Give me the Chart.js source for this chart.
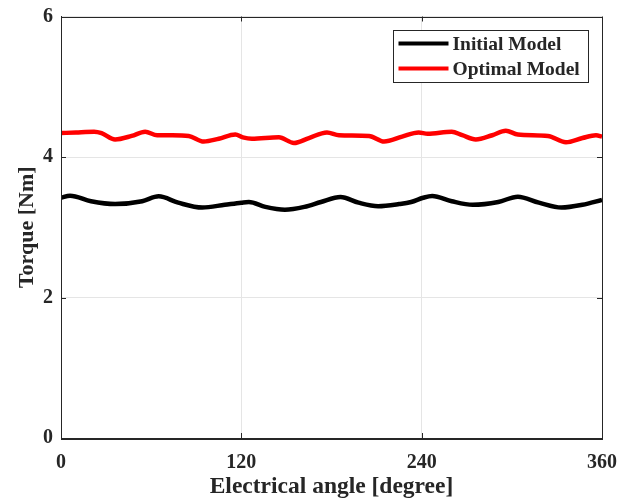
<!DOCTYPE html>
<html>
<head>
<meta charset="utf-8">
<script src="https://cdn.jsdelivr.net/npm/chart.js@4.4.0/dist/chart.umd.min.js"></script>
<style>
  html, body { margin: 0; padding: 0; background: #fff; }
  #wrap { width: 632px; height: 499px; }
</style>
</head>
<body>
<div id="wrap"><canvas id="myChart" width="632" height="499"></canvas></div>
<script>
// values
const initialAngle = [0, 6, 20, 36, 54, 65, 78, 94, 109, 120, 125, 136, 149, 162, 173, 186, 198, 211, 225, 233, 241, 247, 260, 274, 291, 304, 318, 333, 347, 360];
const initialTorque = [3.42, 3.45, 3.37, 3.33, 3.37, 3.44, 3.35, 3.28, 3.32, 3.35, 3.36, 3.29, 3.25, 3.29, 3.36, 3.43, 3.35, 3.30, 3.33, 3.36, 3.42, 3.445, 3.37, 3.32, 3.36, 3.435, 3.35, 3.28, 3.32, 3.39];

const optimalAngle = [0, 10, 22, 27, 36, 47, 56, 64, 74, 85, 95, 105, 116, 121, 127, 145, 155, 165, 177, 185, 205, 215, 227, 238, 244, 260, 267, 276, 287, 296, 304, 324, 336, 347, 356, 360];
const optimalTorque = [4.34, 4.35, 4.36, 4.34, 4.25, 4.30, 4.36, 4.31, 4.31, 4.30, 4.22, 4.26, 4.32, 4.28, 4.26, 4.28, 4.20, 4.27, 4.35, 4.31, 4.30, 4.22, 4.29, 4.35, 4.33, 4.36, 4.31, 4.25, 4.31, 4.375, 4.32, 4.30, 4.21, 4.27, 4.31, 4.29];

const xTicks = [0, 120, 240, 360];
const yTicks = [0, 2, 4, 6];

const serif = "'Liberation Serif', 'Times New Roman', serif";
const axisCol = '#262626';

function pts(xs, ys) {
  return xs.map((x, i) => ({ x: x, y: ys[i] }));
}

// box around the plot + inward tick marks + framed legend (MATLAB look)
const matlabBox = {
  id: 'matlabBox',
  afterDraw(chart) {
    const ctx = chart.ctx;
    const a = chart.chartArea;
    const xs = chart.scales.x, ys = chart.scales.y;
    ctx.save();
    ctx.strokeStyle = axisCol;
    ctx.lineWidth = 1;
    ctx.strokeRect(Math.round(a.left) + 0.5, Math.round(a.top) + 0.5,
                   Math.round(a.right - a.left), Math.round(a.bottom - a.top));
    ctx.beginPath();
    xTicks.forEach(v => {
      const px = Math.round(xs.getPixelForValue(v)) + 0.5;
      ctx.moveTo(px, a.bottom); ctx.lineTo(px, a.bottom - 5);
      ctx.moveTo(px, a.top); ctx.lineTo(px, a.top + 5);
    });
    yTicks.forEach(v => {
      const py = Math.round(ys.getPixelForValue(v)) + 0.5;
      ctx.moveTo(a.left, py); ctx.lineTo(a.left + 5, py);
      ctx.moveTo(a.right, py); ctx.lineTo(a.right - 5, py);
    });
    ctx.stroke();

    // legend
    const bx = 393.5, by = 30.5, bw = 195, bh = 52;
    ctx.fillStyle = '#fff';
    ctx.fillRect(bx, by, bw, bh);
    ctx.strokeStyle = '#262626';
    ctx.strokeRect(bx, by, bw, bh);
    ctx.font = 'bold 19.5px ' + serif;
    ctx.textBaseline = 'middle';
    chart.data.datasets.forEach((ds, i) => {
      const cy = by + 13 + i * 25;
      ctx.strokeStyle = ds.borderColor;
      ctx.lineWidth = 4;
      ctx.beginPath();
      ctx.moveTo(bx + 5, cy); ctx.lineTo(bx + 55, cy);
      ctx.stroke();
      ctx.fillStyle = axisCol;
      ctx.fillText(ds.label, bx + 59, cy + 1);
    });
    ctx.restore();
  }
};

const ctx = document.getElementById('myChart').getContext('2d');
const myChart = new Chart(ctx, {
  type: 'line',
  data: {
    datasets: [
      {
        label: 'Initial Model',
        data: pts(initialAngle, initialTorque),
        borderColor: '#000000',
        borderWidth: 4.5,
        pointRadius: 0,
        cubicInterpolationMode: 'monotone',
        fill: false
      },
      {
        label: 'Optimal Model',
        data: pts(optimalAngle, optimalTorque),
        borderColor: '#ff0000',
        borderWidth: 4.5,
        pointRadius: 0,
        cubicInterpolationMode: 'monotone',
        fill: false
      }
    ]
  },
  options: {
    responsive: false,
    animation: false,
    layout: { padding: { left: 0, right: 30, top: 16.5, bottom: 0 } },
    plugins: {
      legend: { display: false },
      tooltip: { enabled: false }
    },
    scales: {
      x: {
        type: 'linear',
        min: 0,
        max: 360,
        afterBuildTicks: s => { s.ticks = xTicks.map(v => ({ value: v })); },
        afterFit: s => { s.height = 61; s.paddingLeft = 0; s.paddingRight = 0; },
        grid: { color: '#e5e5e5', drawTicks: false },
        border: { color: axisCol },
        ticks: {
          color: axisCol,
          padding: 13,
          maxRotation: 0,
          font: { family: serif, size: 20, weight: 'bold' }
        },
        title: {
          display: true,
          text: 'Electrical angle [degree]',
          color: axisCol,
          padding: { top: 2, bottom: 0 },
          font: { family: serif, size: 23.5, weight: 'bold', lineHeight: 1.0 }
        }
      },
      y: {
        min: 0,
        max: 6,
        afterBuildTicks: s => { s.ticks = yTicks.map(v => ({ value: v })); },
        afterFit: s => { s.width = 61; s.paddingTop = 0; s.paddingBottom = 0; },
        grid: { color: '#e5e5e5', drawTicks: false },
        border: { color: axisCol },
        ticks: {
          color: axisCol,
          padding: 8,
          font: { family: serif, size: 20, weight: 'bold' }
        },
        title: {
          display: true,
          text: 'Torque [Nm]',
          color: axisCol,
          padding: { top: 14, bottom: 4 },
          font: { family: serif, size: 22, weight: 'bold' }
        }
      }
    }
  },
  plugins: [matlabBox]
});
</script>
</body>
</html>
